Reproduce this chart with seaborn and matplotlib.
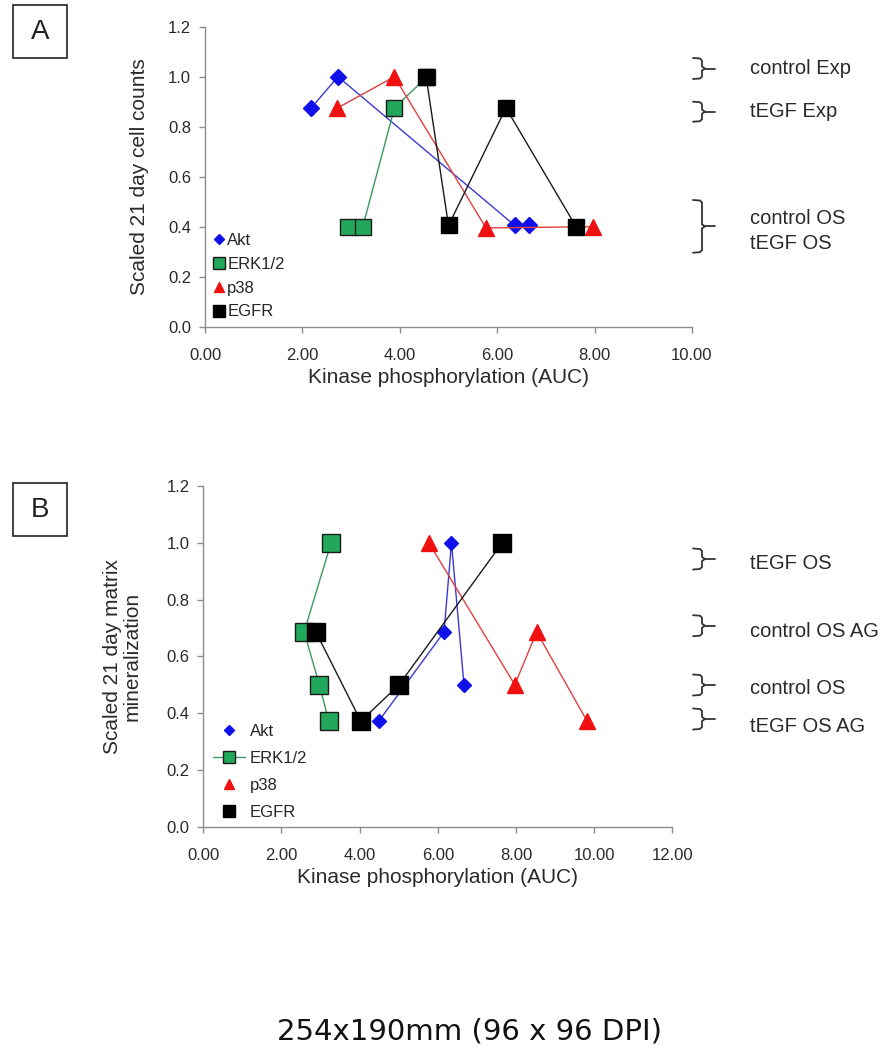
import matplotlib.pyplot as plt
import seaborn as sns
from matplotlib.lines import Line2D
from matplotlib.patches import Rectangle

# ================= data =================
KINASES = ['Akt', 'ERK1/2', 'p38', 'EGFR']

# panel A : scaled 21 day cell counts
AKT_X_A = [2.18, 2.73, 6.36, 6.65]
AKT_Y_A = [0.875, 1.0, 0.405, 0.405]
ERK_X_A = [2.94, 3.24, 3.89, 4.56]
ERK_Y_A = [0.40, 0.40, 0.875, 1.0]
P38_X_A = [2.72, 3.89, 5.77, 7.97]
P38_Y_A = [0.875, 1.0, 0.395, 0.40]
EGFR_X_A = [4.54, 5.00, 6.18, 7.62]
EGFR_Y_A = [1.0, 0.405, 0.875, 0.40]

# panel B : scaled 21 day matrix mineralization (ERK drawn in data order)
AKT_X_B = [4.49, 6.16, 6.35, 6.67]
AKT_Y_B = [0.372, 0.686, 1.0, 0.50]
ERK_X_B = [3.27, 2.58, 2.97, 3.21]
ERK_Y_B = [1.0, 0.686, 0.50, 0.372]
P38_X_B = [5.77, 7.97, 8.53, 9.82]
P38_Y_B = [1.0, 0.50, 0.686, 0.372]
EGFR_X_B = [2.88, 4.03, 5.01, 7.65]
EGFR_Y_B = [0.686, 0.372, 0.50, 1.0]

X_TICKS_A = [0, 2, 4, 6, 8, 10]
X_TICKS_B = [0, 2, 4, 6, 8, 10, 12]
Y_TICKS = [0.0, 0.2, 0.4, 0.6, 0.8, 1.0, 1.2]

GROUPS_A = ['control Exp', 'tEGF Exp', 'control OS', 'tEGF OS']
GROUPS_B = ['tEGF OS', 'control OS AG', 'control OS', 'tEGF OS AG']
# =========================================

STYLE = {
    'Akt':    dict(line='#3a3ad0', face='#1010e8', edge='#1010e8', marker='D'),
    'ERK1/2': dict(line='#3d9960', face='#22a85a', edge='#1a1a1a', marker='s'),
    'p38':    dict(line='#e04040', face='#f01010', edge='#f01010', marker='^'),
    'EGFR':   dict(line='#1a1a1a', face='#000000', edge='#000000', marker='s'),
}

W, H = 891, 1050


def fx(x):
    return x / W


def fy(y):
    return 1 - y / H


def style_axes(ax, xticks, xlab, ylab, ylabelpad):
    ax.set_xlim(xticks[0], xticks[-1])
    ax.set_ylim(0, 1.2)
    ax.set_xticks(xticks)
    ax.set_xticklabels([f'{t:.2f}' for t in xticks])
    ax.set_yticks(Y_TICKS)
    ax.set_yticklabels([f'{t:.1f}' for t in Y_TICKS])
    for s in ['top', 'right']:
        ax.spines[s].set_visible(False)
    for s in ['left', 'bottom']:
        ax.spines[s].set_color('#8c8c8c')
        ax.spines[s].set_linewidth(1.0)
    ax.tick_params(axis='both', direction='out', length=4, width=1,
                   bottom=True, left=True,
                   color='#8c8c8c', labelsize=12, labelcolor='#2a2a2a')
    ax.tick_params(axis='x', pad=11)
    ax.tick_params(axis='y', pad=6)
    ax.set_xlabel(xlab, fontsize=15, color='#2a2a2a', labelpad=4)
    ax.set_ylabel(ylab, fontsize=15, color='#2a2a2a', labelpad=ylabelpad,
                  linespacing=1.0)


def draw_series(ax, series, sizes):
    for name, (xs, ys) in zip(KINASES, series):
        st = STYLE[name]
        sns.lineplot(x=xs, y=ys, sort=False, estimator=None, ax=ax,
                     color=st['line'], linewidth=1.0, marker=st['marker'],
                     markersize=sizes[name], markerfacecolor=st['face'],
                     markeredgecolor=st['edge'], markeredgewidth=1.0)


def legend_handles(sizes, erk_line):
    hs = []
    for name in KINASES:
        st = STYLE[name]
        ls = '-' if (erk_line and name == 'ERK1/2') else 'None'
        hs.append(Line2D([], [], color=st['line'], linestyle=ls, lw=1.0,
                         marker=st['marker'], markersize=sizes[name],
                         markerfacecolor=st['face'], markeredgecolor=st['edge'],
                         markeredgewidth=1.0))
    return hs


def bracket(fig, y0, y1, x0=693, x1=715):
    ym = (y0 + y1) / 2
    xs = [x0, 700, 702, 702, 705, 702, 702, 700, x0]
    ys = [y0, y0 + 0.5, y0 + 2.5, ym - 2, ym, ym + 2, y1 - 2.5, y1 - 0.5, y1]
    fig.add_artist(Line2D([fx(v) for v in xs], [fy(v) for v in ys],
                          color='#333333', lw=1.3))
    fig.add_artist(Line2D([fx(705), fx(x1)], [fy(ym), fy(ym)],
                          color='#333333', lw=1.3))


sns.set_style('ticks')
plt.rcParams['font.family'] = ['Liberation Sans', 'DejaVu Sans']

fig = plt.figure(figsize=(W / 100, H / 100), dpi=100)

# ---- panel A ----
ax_a = fig.add_axes([fx(205), fy(326.7), (692 - 205) / W, 300 / H])
draw_series(ax_a, [(AKT_X_A, AKT_Y_A), (ERK_X_A, ERK_Y_A),
                   (P38_X_A, P38_Y_A), (EGFR_X_A, EGFR_Y_A)],
            {'Akt': 7.8, 'ERK1/2': 12, 'p38': 11.3, 'EGFR': 12})
style_axes(ax_a, X_TICKS_A, 'Kinase phosphorylation (AUC)',
           'Scaled 21 day cell counts', 14)
ax_a.legend(legend_handles({'Akt': 4.6, 'ERK1/2': 8.2, 'p38': 7.2, 'EGFR': 8.0}, False),
            KINASES, loc='upper left', bbox_to_anchor=(fx(214), fy(233)),
            bbox_transform=fig.transFigure, frameon=False, fontsize=12,
            handlelength=0.6, handletextpad=0.2, labelspacing=0.53,
            borderpad=0, borderaxespad=0)

# ---- panel B ----
ax_b = fig.add_axes([fx(203.3), fy(826.7), (672.3 - 203.3) / W, 340.7 / H])
draw_series(ax_b, [(AKT_X_B, AKT_Y_B), (ERK_X_B, ERK_Y_B),
                   (P38_X_B, P38_Y_B), (EGFR_X_B, EGFR_Y_B)],
            {'Akt': 7.0, 'ERK1/2': 13.2, 'p38': 11.5, 'EGFR': 13.2})
style_axes(ax_b, X_TICKS_B, 'Kinase phosphorylation (AUC)',
           'Scaled 21 day matrix\nmineralization', 18)
ax_b.legend(legend_handles({'Akt': 5.0, 'ERK1/2': 8.8, 'p38': 7.2, 'EGFR': 8.0}, True),
            KINASES, loc='upper left', bbox_to_anchor=(fx(213), fy(724)),
            bbox_transform=fig.transFigure, frameon=False, fontsize=12,
            handlelength=1.9, handletextpad=0.3, labelspacing=0.72,
            borderpad=0, borderaxespad=0)

# ---- panel letters ----
for letter, top in [('A', 5), ('B', 483.3)]:
    fig.add_artist(Rectangle((fx(13.3), fy(top + 53)), 53.4 / W, 53 / H,
                             transform=fig.transFigure, fill=False,
                             edgecolor='#222222', lw=1.2))
    fig.text(fx(40), fy(top + 27), letter, fontsize=20, ha='center',
             va='center', color='#222222')

# ---- brackets and group names ----
bracket(fig, 58, 79)
bracket(fig, 101.7, 121.7)
bracket(fig, 200, 252.7)
for label, yc in zip(GROUPS_A, [68.3, 111.7, 218.3, 243.3]):
    fig.text(fx(750), fy(yc), label, fontsize=14.5, va='center',
             color='#2a2a2a')

for label, yc in zip(GROUPS_B, [559, 625.7, 685, 719]):
    bracket(fig, yc - 10.5, yc + 10.5)
for label, yc in zip(GROUPS_B, [563.3, 631.7, 688.3, 726.7]):
    fig.text(fx(750), fy(yc), label, fontsize=14.5, va='center',
             color='#2a2a2a')

fig.text(fx(469), fy(1031.7), '254x190mm (96 x 96 DPI)', fontsize=21,
         ha='center', va='center', family=['DejaVu Sans'], color='#111111')

fig.savefig('out.png', dpi=100)
